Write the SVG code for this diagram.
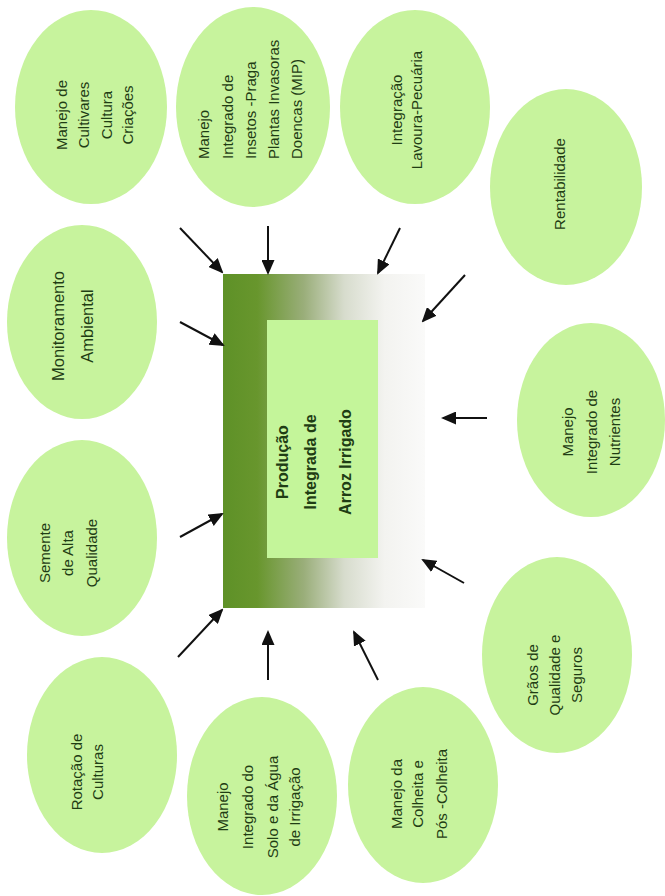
<svg xmlns="http://www.w3.org/2000/svg" width="665" height="896" viewBox="0 0 665 896">
<style>
.el{fill:#c7f39d;}
.t{font-family:"Liberation Sans",Arial,sans-serif;font-size:15px;fill:#1f3d14;text-anchor:middle;}
.ts{text-anchor:start;}
.big{font-size:16.5px;}
.ct{font-family:"Liberation Sans",Arial,sans-serif;font-size:16px;font-weight:bold;fill:#1f3d14;text-anchor:middle;}
.ar{stroke:#111;stroke-width:2;fill:none;marker-end:url(#ah);}
</style>
<defs>
<linearGradient id="gr" gradientUnits="userSpaceOnUse" x1="223" y1="0" x2="425" y2="0">
<stop offset="0" stop-color="#5e9127"/>
<stop offset="0.17" stop-color="#68962d"/>
<stop offset="0.4" stop-color="#9aae7a"/>
<stop offset="0.6" stop-color="#d7dccd"/>
<stop offset="0.8" stop-color="#f3f3f0"/>
<stop offset="1" stop-color="#fafaf9"/>
</linearGradient>
<marker id="ah" markerUnits="userSpaceOnUse" markerWidth="15" markerHeight="13" refX="13" refY="6.5" orient="auto">
<path d="M0,0 L15,6.5 L0,13 z" fill="#111"/>
</marker>
</defs>
<rect width="665" height="896" fill="#ffffff"/>

<g id="center">
<rect x="223" y="274" width="202" height="334" fill="url(#gr)"/>
<rect x="267" y="320" width="111" height="238" fill="#c4f59a"/>
<text class="ct" transform="translate(288,462) rotate(-90)">Produção</text>
<text class="ct" transform="translate(316,462) rotate(-90)">Integrada de</text>
<text class="ct" transform="translate(351,462) rotate(-90)">Arroz Irrigado</text>
</g>

<g id="n1">
<ellipse class="el" cx="91" cy="107" rx="76" ry="97"/>
<text class="t" transform="translate(67,115) rotate(-90)">Manejo de</text>
<text class="t" transform="translate(89,115) rotate(-90)">Cultivares</text>
<text class="t" transform="translate(112,115) rotate(-90)">Cultura</text>
<text class="t" transform="translate(133,115) rotate(-90)">Criações</text>
</g>
<g id="n2">
<ellipse class="el" cx="253" cy="107" rx="77" ry="100"/>
<text class="t ts" transform="translate(209,159) rotate(-90)">Manejo</text>
<text class="t ts" transform="translate(233,159) rotate(-90)">Integrado de</text>
<text class="t ts" transform="translate(256,159) rotate(-90)">Insetos -Praga</text>
<text class="t ts" transform="translate(279,159) rotate(-90)">Plantas Invasoras</text>
<text class="t ts" transform="translate(302,159) rotate(-90)">Doencas (MIP)</text>
</g>
<g id="n3">
<ellipse class="el" cx="415" cy="107" rx="75" ry="97"/>
<text class="t" transform="translate(402,110) rotate(-90)">Integração</text>
<text class="t" transform="translate(422,110) rotate(-90)">Lavoura-Pecuária</text>
</g>
<g id="n4">
<ellipse class="el" cx="566" cy="187" rx="76" ry="98"/>
<text class="t" transform="translate(565,184) rotate(-90)">Rentabilidade</text>
</g>
<g id="n5">
<ellipse class="el" cx="82" cy="322" rx="75" ry="97"/>
<text class="t big" transform="translate(64,326) rotate(-90)">Monitoramento</text>
<text class="t big" transform="translate(93,326) rotate(-90)">Ambiental</text>
</g>
<g id="n6">
<ellipse class="el" cx="82" cy="538" rx="75" ry="98"/>
<text class="t" transform="translate(50,553) rotate(-90)">Semente</text>
<text class="t" transform="translate(73,553) rotate(-90)">de Alta</text>
<text class="t" transform="translate(97,553) rotate(-90)">Qualidade</text>
</g>
<g id="n7">
<ellipse class="el" cx="102" cy="755" rx="75" ry="98"/>
<text class="t" transform="translate(82,772) rotate(-90)">Rotação de</text>
<text class="t" transform="translate(103,772) rotate(-90)">Culturas</text>
</g>
<g id="n8">
<ellipse class="el" cx="262" cy="796" rx="75" ry="99"/>
<text class="t" transform="translate(228,807) rotate(-90)">Manejo</text>
<text class="t" transform="translate(253,807) rotate(-90)">Integrado do</text>
<text class="t" transform="translate(278,807) rotate(-90)">Solo e da Água</text>
<text class="t" transform="translate(300,807) rotate(-90)">de Irrigação</text>
</g>
<g id="n9">
<ellipse class="el" cx="423" cy="785" rx="75" ry="98"/>
<text class="t" transform="translate(402,794) rotate(-90)">Manejo da</text>
<text class="t" transform="translate(423,794) rotate(-90)">Colheita e</text>
<text class="t" transform="translate(447,794) rotate(-90)">Pós -Colheita</text>
</g>
<g id="n10">
<ellipse class="el" cx="557" cy="655" rx="75" ry="98"/>
<text class="t" transform="translate(538,675) rotate(-90)">Grãos de</text>
<text class="t" transform="translate(560,675) rotate(-90)">Qualidade e</text>
<text class="t" transform="translate(582,675) rotate(-90)">Seguros</text>
</g>
<g id="n11">
<ellipse class="el" cx="591" cy="420" rx="74" ry="97"/>
<text class="t" transform="translate(573,432) rotate(-90)">Manejo</text>
<text class="t" transform="translate(597,432) rotate(-90)">Integrado de</text>
<text class="t" transform="translate(620,432) rotate(-90)">Nutrientes</text>
</g>

<g id="connectors">
<line class="ar" x1="180" y1="228" x2="222" y2="272"/>
<line class="ar" x1="268" y1="226" x2="268" y2="273"/>
<line class="ar" x1="400" y1="228" x2="378" y2="273"/>
<line class="ar" x1="465" y1="275" x2="423" y2="321"/>
<line class="ar" x1="180" y1="322" x2="223" y2="345"/>
<line class="ar" x1="487" y1="418" x2="443" y2="418"/>
<line class="ar" x1="180" y1="537" x2="222" y2="514"/>
<line class="ar" x1="464" y1="583" x2="423" y2="560"/>
<line class="ar" x1="178" y1="657" x2="222" y2="610"/>
<line class="ar" x1="268" y1="680" x2="268" y2="632"/>
<line class="ar" x1="378" y1="680" x2="354" y2="632"/>
</g>
</svg>
